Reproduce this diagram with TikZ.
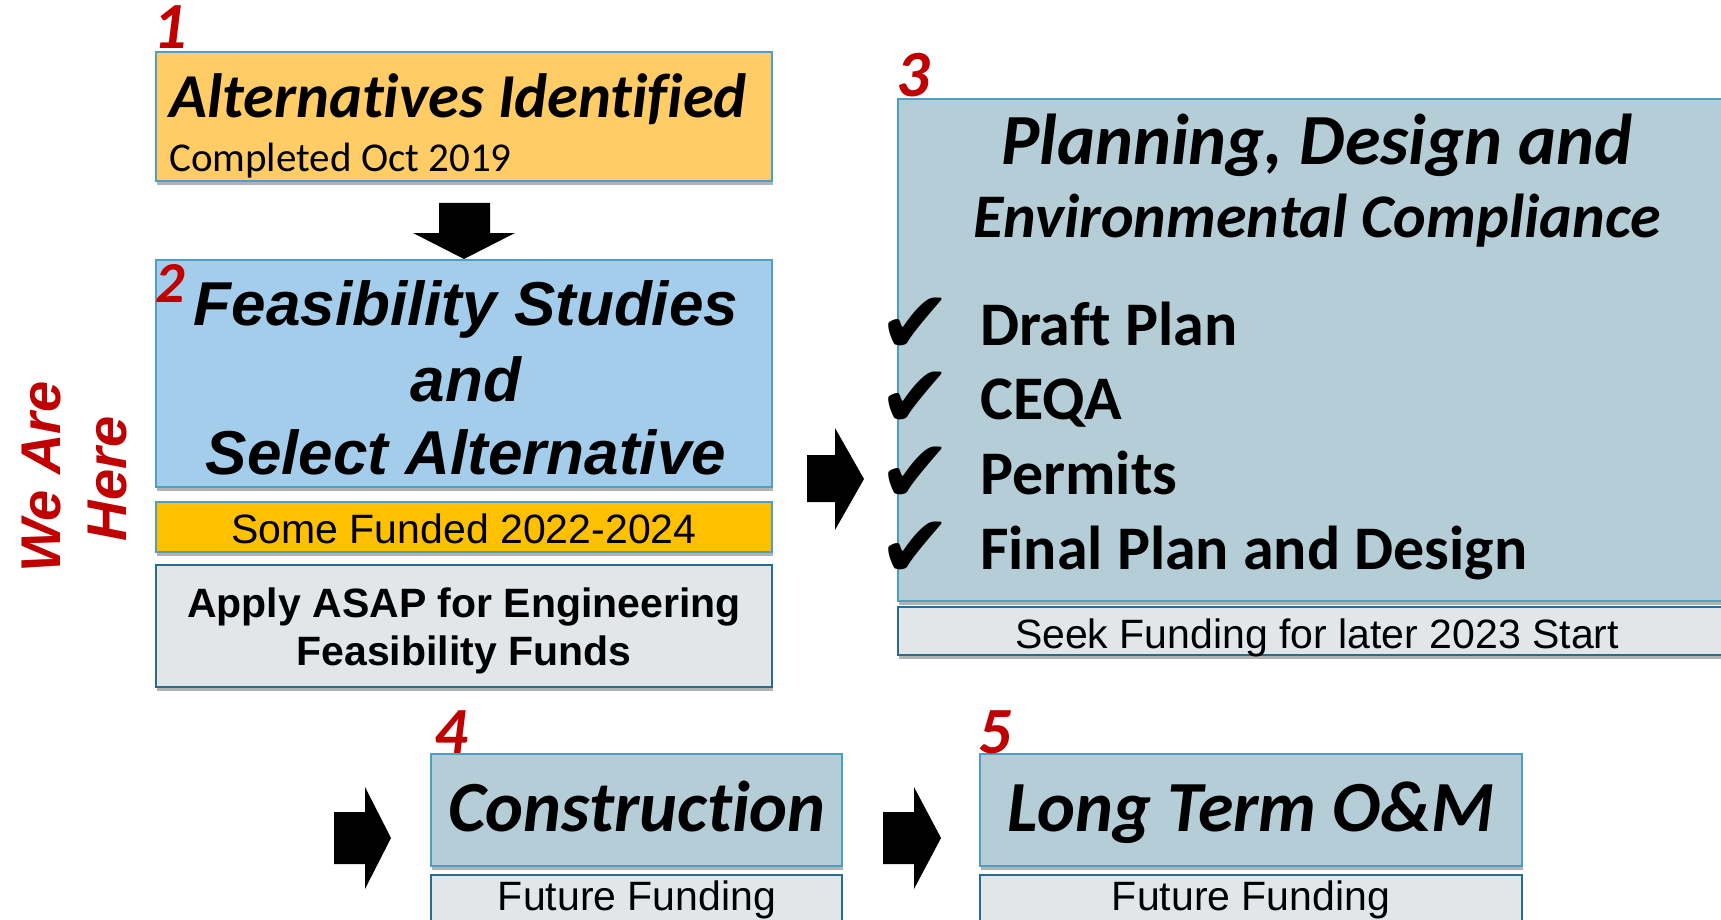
\documentclass[tikz,border=0pt]{standalone}
\usepackage{fontspec}
\setmainfont{Liberation Sans}
\newfontfamily\calfont[Ligatures=NoCommon]{Carlito}
\newfontfamily\symfont{DejaVu Sans}
\usetikzlibrary{shadows}
\definecolor{boxorange}{RGB}{255,204,102}
\definecolor{boxblue}{RGB}{163,205,235}
\definecolor{boxgold}{RGB}{255,192,0}
\definecolor{boxgray}{RGB}{226,230,232}
\definecolor{boxteal}{RGB}{181,205,214}
\definecolor{edgeblue}{RGB}{75,160,195}
\definecolor{edgedark}{RGB}{40,110,140}
\definecolor{numred}{RGB}{192,0,0}
\tikzset{
  box/.style={draw=edgeblue, line width=1.6pt, inner sep=0pt, outer sep=0pt, anchor=north west,
    drop shadow={shadow xshift=1pt, shadow yshift=-4pt, opacity=0.3, fill=black}},
  graybox/.style={box, draw=edgedark, line width=2pt, fill=boxgray},
  num/.style={anchor=base west, text=numred, font=\calfont\bfseries\itshape\fontsize{66}{66}\selectfont, inner sep=0pt},
  calbi/.style={anchor=base, inner sep=0pt, font=\calfont\bfseries\itshape\fontsize{#1}{#1}\selectfont},
  calb/.style={anchor=base west, inner sep=0pt, font=\calfont\bfseries\fontsize{62}{62}\selectfont},
  arbi/.style={anchor=base, inner sep=0pt, font=\bfseries\itshape\fontsize{62}{62}\selectfont},
  arb/.style={anchor=base, inner sep=0pt, font=\bfseries\fontsize{41}{41}\selectfont},
  arr/.style={anchor=base, inner sep=0pt, font=\fontsize{41}{41}\selectfont},
  chk/.style={anchor=base west, inner sep=0pt, text height=50pt, text depth=0pt, font=\symfont\fontsize{88}{88}\selectfont},
  here/.style={anchor=base, inner sep=0pt, rotate=90, text=numred, font=\bfseries\itshape\fontsize{56}{56}\selectfont},
  blockarrow/.style={fill=black}
}
\begin{document}
\begin{tikzpicture}[x=1pt,y=-1pt]
\useasboundingbox (0,0) rectangle (1721,920);

% Step 1
\node[box, fill=boxorange, minimum width=616, minimum height=129] (alt) at (156,52) {};
\node[num] (n1) at (153,49) {1};
\node[anchor=base west, inner sep=0pt, font=\calfont\bfseries\itshape\fontsize{62.5}{62.5}\selectfont] (altT) at (169,118) {Alternatives Identified};
\node[anchor=base west, inner sep=0pt, font=\calfont\fontsize{41}{41}\selectfont] (altS) at (169,172) {Completed Oct 2019};

% down arrow
\fill[blockarrow] (439,203) -- (490,203) -- (490,233) -- (515,233) -- (464,259) -- (413,233) -- (439,233) -- cycle;

% Step 2
\node[box, fill=boxblue, minimum width=616, minimum height=227] (feas) at (156,260) {};
\node[num, font=\calfont\bfseries\itshape\fontsize{58}{58}\selectfont] (n2) at (155,302) {2};
\node[arbi] (feasA) at (466,325) {Feasibility Studies};
\node[arbi] (feasB) at (466,401) {and};
\node[arbi] (feasC) at (466,474) {Select Alternative};
\node[box, fill=boxgold, minimum width=616, minimum height=50] (fund) at (156,502) {};
\node[arr] (fundT) at (464,543) {Some Funded 2022-2024};
\node[graybox, minimum width=616, minimum height=122] (apply) at (156,565) {};
\node[arb] (applyA) at (464,617) {Apply ASAP for Engineering};
\node[arb] (applyB) at (464,665) {Feasibility Funds};

% We Are Here
\node[here] (we) at (60,477) {We Are};
\node[here] (hr) at (126,479) {Here};

% right arrow to step 3
\fill[blockarrow] (807,455) -- (835,455) -- (835,428) -- (864,479) -- (835,530) -- (835,502) -- (807,502) -- cycle;

% Step 3
\node[box, fill=boxteal, minimum width=830, minimum height=502] (plan) at (898,99) {};
\node[num] (n3) at (896,97) {3};
\node[calbi=72] (planA) at (1317,165) {Planning, Design and};
\node[calbi=62] (planB) at (1317,237) {Environmental Compliance};
\node[chk] (c1) at (878,353) {✔};
\node[chk] (c2) at (878,427) {✔};
\node[chk] (c3) at (878,502) {✔};
\node[chk] (c4) at (878,577) {✔};
\node[calb] (i1) at (980,345) {Draft Plan};
\node[calb] (i2) at (980,419) {CEQA};
\node[calb] (i3) at (980,494) {Permits};
\node[calb] (i4) at (980,569) {Final Plan and Design};
\node[graybox, minimum width=830, minimum height=48] (seek) at (898,607) {};
\node[arr] (seekT) at (1317,648) {Seek Funding for later 2023 Start};

% Step 4
\fill[blockarrow] (334,812) -- (365,812) -- (365,787) -- (391,838) -- (365,889) -- (365,864) -- (334,864) -- cycle;
\node[box, fill=boxteal, minimum width=411, minimum height=112] (cons) at (431,754) {};
\node[num] (n4) at (434,753) {4};
\node[calbi=72] (consT) at (637,831) {Construction};
\node[graybox, minimum width=411, minimum height=60] (fut1) at (431,875) {};
\node[arr] (fut1T) at (637,910) {Future Funding};

% Step 5
\fill[blockarrow] (883,812) -- (914,812) -- (914,787) -- (941,838) -- (914,889) -- (914,864) -- (883,864) -- cycle;
\node[box, fill=boxteal, minimum width=542, minimum height=112] (om) at (980,754) {};
\node[num] (n5) at (978,753) {5};
\node[calbi=72] (omT) at (1251,831) {Long Term O\&M};
\node[graybox, minimum width=542, minimum height=60] (fut2) at (980,875) {};
\node[arr] (fut2T) at (1251,910) {Future Funding};
\end{tikzpicture}
\end{document}
